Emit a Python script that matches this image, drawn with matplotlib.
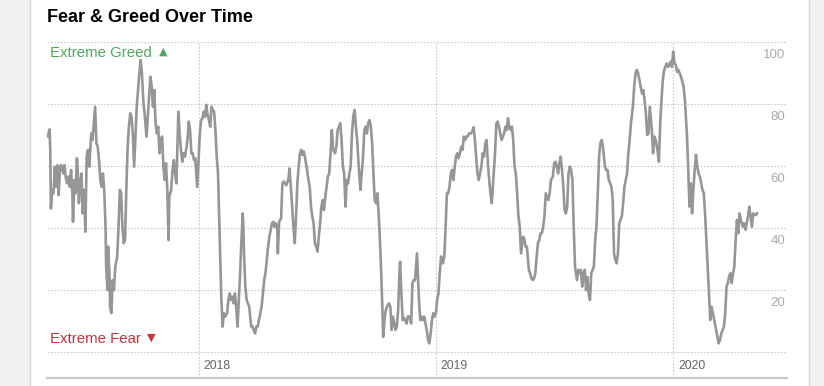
import pandas as pd
import matplotlib.pyplot as plt
import matplotlib.transforms as mtransforms
from matplotlib.patches import Rectangle

# -----------------------------
# Data: CNN Fear & Greed index
# x = days since 2018-01-01, y = index value
# -----------------------------
days_2017 = [-232, -229, -228, -227, -225, -223, -221, -219, -217, -215, -213, -211, -208, -206, -204,
             -202, -200, -198, -196, -194, -193, -191, -189, -187, -185, -184, -182, -180, -178, -176,
             -174, -172, -170, -168, -165, -163, -161, -159, -157, -155, -153, -151, -149, -147, -145,
             -143, -142, -140, -139, -137, -136, -134, -132, -130, -128, -125, -123, -121, -119, -117,
             -115, -113, -111, -109, -107, -105, -103, -101, -99, -97, -95, -93, -91, -89, -87,
             -85, -82, -80, -78, -76, -74, -72, -70, -68, -66, -64, -62, -60, -58, -56,
             -54, -52, -50, -48, -46]
fg_2017 = [69.5, 71.8, 65.2, 46.3, 52.3, 51.2, 59.8, 53.3, 60.3, 50.6, 59.8, 60.3, 57.6, 60.3, 56.0,
           54.4, 56.6, 53.3, 58.7, 51.2, 42.0, 55.5, 51.2, 62.5, 55.5, 48.0, 53.3, 57.6, 44.7, 52.3,
           38.8, 63.0, 65.2, 59.8, 70.5, 68.4, 73.8, 79.1, 67.3, 66.2, 61.9, 55.5, 53.3, 57.6, 52.3,
           40.4, 27.5, 20.0, 34.0, 25.4, 14.6, 12.5, 23.2, 20.0, 27.5, 30.8, 40.4, 52.3, 51.2, 40.4,
           35.1, 36.1, 52.3, 66.2, 72.7, 77.0, 75.9, 70.5, 59.8, 69.5, 79.1, 84.5, 89.9, 94.2, 89.9,
           81.3, 74.8, 69.5, 75.9, 82.4, 88.8, 85.6, 79.1, 84.5, 73.8, 70.5, 72.7, 64.1, 68.4, 69.5,
           59.8, 55.5, 60.9, 52.3, 36.1]

days_2018a = [-45, -42, -40, -38, -36, -34, -32, -31, -29, -27, -25, -23, -21, -19, -17,
              -15, -13, -11, -9, -7, -5, -2, 0, 2, 4, 6, 8, 10, 12, 14,
              16, 18, 20, 22, 24, 26, 28, 30, 32, 34, 35, 37, 39, 41, 44,
              46, 48, 50, 52, 54, 56, 58, 60, 62, 64, 66, 68, 69, 70, 72,
              74, 76, 78, 81, 83, 85, 87, 89, 91, 93, 95, 97, 99, 101, 103,
              105, 107, 109, 111, 113, 115, 117, 119, 121, 122, 124, 127, 129, 131, 133]
fg_2018a = [50.1, 52.3, 58.7, 61.9, 57.6, 54.4, 70.5, 77.5, 70.5, 65.2, 61.4, 64.1, 63.0, 65.2, 68.4,
            74.3, 71.6, 64.1, 64.1, 61.9, 62.5, 53.3, 61.9, 70.5, 74.8, 75.4, 77.5, 75.9, 79.7, 76.5,
            74.8, 72.7, 79.1, 78.1, 77.5, 71.6, 63.0, 57.6, 41.5, 25.4, 17.8, 8.2, 12.5, 11.4, 12.5,
            16.8, 18.9, 16.8, 17.8, 15.7, 18.9, 14.6, 8.2, 16.8, 25.4, 36.1, 44.7, 40.4, 31.8, 21.1,
            16.8, 15.7, 14.6, 8.2, 8.2, 7.1, 6.0, 8.2, 8.2, 10.3, 12.5, 14.6, 18.9, 23.2, 25.4,
            29.7, 34.0, 37.2, 39.4, 41.5, 42.0, 40.4, 41.5, 40.4, 31.8, 42.0, 43.1, 54.4, 55.0, 54.4]

days_2018b = [135, 138, 140, 142, 144, 146, 148, 150, 152, 154, 156, 158, 160, 162, 164,
              167, 169, 171, 173, 175, 177, 179, 181, 183, 185, 187, 189, 191, 193, 195,
              197, 199, 201, 203, 205, 207, 210, 212, 214, 216, 218, 220, 222, 224, 226,
              228, 230, 232, 234, 236, 238, 240, 242, 244, 247, 249, 251, 253, 255, 257,
              259, 261, 263, 265, 267, 269, 271, 273, 275, 277, 279, 281, 283, 284, 286,
              288, 290, 293, 295, 297, 299, 301, 303, 305, 307, 309, 310, 312, 314, 316,
              318, 320, 322]
fg_2018b = [53.8, 55.5, 59.2, 53.3, 46.9, 40.4, 35.1, 43.7, 54.4, 59.8, 64.1, 65.2, 63.6, 64.7, 62.5,
            58.7, 55.5, 53.3, 46.9, 43.7, 41.5, 35.1, 34.0, 32.4, 37.2, 41.5, 46.9, 49.0, 45.8, 50.1,
            53.3, 56.6, 57.6, 64.1, 71.6, 65.2, 64.1, 66.2, 71.6, 72.7, 73.8, 68.4, 59.8, 57.6, 46.9,
            55.5, 54.4, 57.6, 59.8, 70.5, 75.9, 78.1, 72.7, 68.4, 57.6, 52.3, 57.6, 63.0, 71.6, 72.7,
            70.5, 73.8, 74.8, 72.7, 67.3, 57.6, 49.0, 48.0, 51.2, 44.7, 36.1, 25.4, 12.5, 4.9, 10.3,
            13.5, 14.6, 15.7, 14.6, 7.1, 11.4, 9.2, 7.1, 8.2, 13.5, 25.4, 29.1, 18.9, 10.3, 11.0,
            10.3, 9.2, 11.5]

days_2019a = [325, 327, 329, 331, 333, 336, 337, 339, 341, 343, 345, 347, 349, 351, 353,
              355, 357, 359, 361, 363, 365, 367, 369, 371, 373, 376, 378, 380, 382, 384,
              386, 388, 390, 392, 394, 396, 398, 400, 402, 404, 406, 408, 410, 412, 414,
              416, 419, 421, 423, 425, 427, 429, 431, 433, 435, 437, 439, 441, 443, 445,
              447, 449, 451, 453, 456, 458, 460, 462, 464, 466, 468, 470, 472, 474, 476,
              478, 480, 482, 484, 486, 488, 490, 492, 494, 496, 499, 501, 503, 505]
fg_2019a = [11.4, 9.2, 22.2, 23.2, 23.2, 31.8, 26.5, 16.8, 10.3, 11.4, 10.3, 11.4, 9.2, 7.1, 3.9,
            2.8, 6.0, 10.3, 12.5, 11.4, 12.5, 16.8, 18.9, 25.4, 30.8, 28.6, 30.8, 40.4, 51.2, 51.2,
            53.3, 57.6, 58.7, 55.5, 59.8, 63.0, 64.1, 62.5, 64.1, 66.2, 65.2, 69.5, 68.4, 69.5, 69.5,
            70.5, 70.5, 71.1, 72.5, 68.4, 63.0, 57.6, 55.5, 57.6, 59.8, 64.1, 63.0, 67.3, 68.4, 60.9,
            55.5, 51.2, 48.0, 54.4, 64.1, 73.8, 74.3, 72.7, 70.5, 68.4, 69.5, 70.5, 72.7, 71.6, 75.4,
            72.2, 71.6, 72.7, 68.4, 59.8, 57.6, 51.2, 43.7, 40.4, 31.8, 37.2, 36.5, 34.0, 34.0]

days_2019b = [508, 510, 512, 514, 516, 518, 520, 522, 524, 526, 528, 530, 532, 534, 536,
              538, 540, 542, 545, 547, 549, 551, 553, 555, 557, 559, 561, 563, 565, 567,
              569, 571, 573, 575, 577, 579, 582, 584, 586, 588, 590, 592, 594, 596, 598,
              600, 602, 604, 606, 608, 610, 612, 614, 616, 618, 620, 622, 625, 627, 629,
              631, 633, 635, 637, 639, 641, 643, 645, 647, 649, 651, 653, 655, 657, 659,
              661, 663, 665, 668, 670, 672, 674, 676, 678, 680, 682, 684, 686, 688, 690,
              692]
fg_2019b = [26.5, 25.4, 23.8, 23.2, 23.8, 25.4, 30.8, 35.1, 36.1, 38.3, 38.3, 40.4, 43.7, 51.2, 50.1,
            49.0, 51.2, 55.5, 56.6, 60.9, 61.4, 59.8, 57.6, 60.9, 63.0, 58.7, 53.3, 45.8, 44.7, 46.9,
            57.6, 59.8, 58.7, 55.5, 40.4, 27.5, 23.2, 26.5, 25.4, 26.5, 21.1, 25.4, 26.5, 20.0, 24.2,
            18.9, 16.8, 25.4, 26.5, 27.5, 36.1, 40.4, 51.2, 63.0, 67.3, 68.4, 66.2, 59.8, 58.7, 58.7,
            55.5, 54.4, 53.3, 49.0, 31.8, 29.7, 28.6, 31.8, 41.5, 42.6, 43.7, 48.0, 53.3, 55.5, 57.6,
            64.1, 68.4, 73.8, 79.1, 85.6, 89.9, 91.0, 89.9, 87.7, 85.6, 83.4, 84.5, 81.3, 77.0, 70.0,
            70.5]

days_2020 = [694, 697, 699, 701, 703, 705, 708, 710, 712, 714, 716, 718, 720, 722, 724,
             726, 728, 730, 732, 734, 736, 738, 740, 742, 744, 746, 748, 751, 753, 755,
             757, 759, 761, 763, 765, 767, 769, 771, 773, 775, 777, 779, 781, 783, 785,
             787, 789, 791, 794, 796, 798, 800, 802, 804, 806, 808, 810, 812, 814, 816,
             818, 820, 822, 824, 826, 828, 830, 832, 834, 837, 839, 841, 843, 845, 847,
             849, 851, 853, 855, 857, 859]
fg_2020 = [79.1, 72.0, 64.1, 69.5, 68.4, 66.2, 61.4, 73.8, 81.3, 87.7, 91.0, 92.0, 93.1, 92.0, 92.6,
           93.7, 92.0, 96.9, 93.1, 92.6, 90.4, 91.0, 89.9, 88.8, 87.2, 85.6, 81.3, 70.5, 59.8, 46.9,
           54.4, 44.7, 52.3, 58.7, 63.6, 59.8, 57.6, 56.6, 54.4, 52.3, 51.2, 44.7, 36.1, 27.5, 18.9,
           10.3, 14.6, 12.5, 9.2, 7.1, 4.9, 2.8, 3.9, 6.0, 7.1, 8.2, 12.5, 21.1, 22.2, 24.4,
           25.4, 22.2, 25.4, 27.5, 36.1, 42.6, 38.3, 44.7, 42.6, 40.4, 41.5, 39.4, 41.5, 43.7, 46.9,
           43.7, 40.4, 44.7, 44.2, 44.2, 44.7]

year_ticks = ["2018-01-01", "2019-01-01", "2020-01-01"]
year_labels = ["2018", "2019", "2020"]
y_ticks = [20, 40, 60, 80, 100]

base = pd.Timestamp("2018-01-01")
days = days_2017 + days_2018a + days_2018b + days_2019a + days_2019b + days_2020
values = fg_2017 + fg_2018a + fg_2018b + fg_2019a + fg_2019b + fg_2020
dates = base + pd.to_timedelta(days, unit="D")

# -----------------------------
# Figure
# -----------------------------
W, H = 824, 386
fig = plt.figure(figsize=(W / 100, H / 100), dpi=100)
plt.rcParams["font.family"] = ["Liberation Sans", "DejaVu Sans"]

# page frame on both sides
fig.patches.append(Rectangle((0, 0), 29 / W, 1, transform=fig.transFigure, color="#f1f1f1", zorder=0))
fig.patches.append(Rectangle((809 / W, 0), 1, 1, transform=fig.transFigure, color="#f1f1f1", zorder=0))
fig.add_artist(plt.Line2D([29.5 / W, 29.5 / W], [0, 1], color="#d8d8d8", lw=1))
fig.add_artist(plt.Line2D([808.5 / W, 808.5 / W], [0, 1], color="#d8d8d8", lw=1))

ax = fig.add_axes([47 / W, 34 / H, 740 / W, 310 / H])
ax.plot(dates, values, color="#969696", lw=1.9, solid_joinstyle="round")

ax.set_ylim(0, 100)
ax.set_xlim(base + pd.Timedelta(days=-233), base + pd.Timedelta(days=905))
for s in ax.spines.values():
    s.set_visible(False)
ax.set_xticks([])
ax.set_yticks([])

grid_kw = dict(color="#c9c9c9", lw=0.8, ls=(0, (1.5, 1.5)))
for v in [0] + y_ticks:
    ax.axhline(v, **grid_kw, zorder=0, clip_on=False)
for d in year_ticks:
    ax.axvline(pd.Timestamp(d), ymin=-26 / 310, ymax=1, **grid_kw, zorder=0, clip_on=False)

# bottom rule
ax.plot([0, 1], [-26 / 310, -26 / 310], transform=ax.transAxes, color="#c8c8c8", lw=1.6, clip_on=False)

# y labels sit just under their gridline on the right
ylab_tr = mtransforms.offset_copy(ax.get_yaxis_transform(), fig=fig, x=-2, y=-13, units="dots")
for v in y_ticks:
    ax.text(1.0, v, str(v), transform=ylab_tr, ha="right", va="center", fontsize=9.5, color="#aaaaaa")

# year labels
xlab_tr = mtransforms.offset_copy(ax.get_xaxis_transform(), fig=fig, x=5, y=0, units="dots")
for d, lab in zip(year_ticks, year_labels):
    ax.text(pd.Timestamp(d), -14 / 310, lab, transform=xlab_tr, ha="left", va="center",
            fontsize=8.7, color="#666666")

# extreme labels
green, red = "#4ea95b", "#c8323c"
fig.text(50 / W, 1 - 53 / H, "Extreme Greed", color=green, fontsize=10.8, ha="left", va="center")
fig.text(163 / W, 1 - 52 / H, "\u25B2", color=green, fontsize=8, ha="center", va="center",
         family="DejaVu Sans")
fig.text(50 / W, 1 - 339 / H, "Extreme Fear", color=red, fontsize=10.8, ha="left", va="center")
fig.text(151 / W, 1 - 338 / H, "\u25BC", color=red, fontsize=8, ha="center", va="center",
         family="DejaVu Sans")

# title
fig.text(47 / W, 1 - 18 / H, "Fear & Greed Over Time", fontsize=13, fontweight="bold",
         color="black", ha="left", va="center")

fig.savefig("out.png", dpi=100)
